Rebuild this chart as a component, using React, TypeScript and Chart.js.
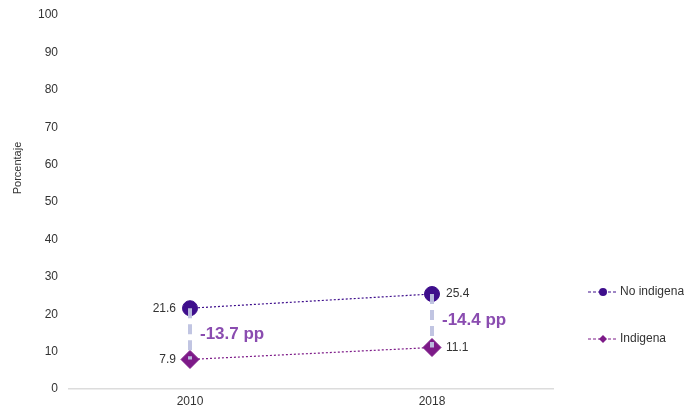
import React, { useEffect, useRef } from "react";
import { Chart, registerables } from "chart.js";

Chart.register(...registerables);

const categories = ["2010", "2018"];
const noIndigena = [21.6, 25.4];
const indigena = [7.9, 11.1];
const gapLabels = ["-13.7 pp", "-14.4 pp"];
const yTicks = [0, 10, 20, 30, 40, 50, 60, 70, 80, 90, 100];
const seriesNames = ["No indigena", "Indigena"];

const COLOR_NO = "#3e0e8c";
const COLOR_IND = "#7d1a88";
const FONT = "'Liberation Sans', Arial, sans-serif";

const overlayPlugin = {
  id: "overlay",
  afterDatasetsDraw(chart: any) {
    const ctx = chart.ctx;
    const m0 = chart.getDatasetMeta(0);
    const m1 = chart.getDatasetMeta(1);
    ctx.save();
    // connectors
    for (let i = 0; i < categories.length; i++) {
      const a = m0.data[i];
      const b = m1.data[i];
      if (!a || !b) continue;
      ctx.beginPath();
      ctx.setLineDash([10, 6]);
      ctx.lineWidth = 4;
      ctx.strokeStyle = "rgba(190,194,224,0.95)";
      ctx.moveTo(a.x, a.y);
      ctx.lineTo(b.x, b.y);
      ctx.stroke();
    }
    ctx.setLineDash([]);
    // value labels
    ctx.font = `12px ${FONT}`;
    ctx.fillStyle = "#333";
    ctx.textBaseline = "middle";
    for (let i = 0; i < categories.length; i++) {
      const left = i === 0;
      ctx.textAlign = left ? "right" : "left";
      const a = m0.data[i];
      const b = m1.data[i];
      const off = 14;
      ctx.fillText(String(noIndigena[i]), left ? a.x - off : a.x + off, a.y);
      ctx.fillText(String(indigena[i]), left ? b.x - off : b.x + off, b.y);
    }
    // gap labels
    ctx.font = `bold 17px ${FONT}`;
    ctx.fillStyle = "#8a4cb0";
    ctx.textAlign = "left";
    for (let i = 0; i < categories.length; i++) {
      const a = m0.data[i];
      const b = m1.data[i];
      ctx.fillText(gapLabels[i], a.x + 10, (a.y + b.y) / 2);
    }
    // y-axis title
    ctx.save();
    ctx.translate(18, 168);
    ctx.rotate(-Math.PI / 2);
    ctx.font = `11px ${FONT}`;
    ctx.fillStyle = "#333";
    ctx.textAlign = "center";
    ctx.fillText("Porcentaje", 0, 0);
    ctx.restore();
    // legend
    const items = [
      { name: seriesNames[0], color: COLOR_NO, y: 292, style: "circle", r: 4 },
      { name: seriesNames[1], color: COLOR_IND, y: 339, style: "rectRot", r: 4 },
    ];
    items.forEach((it) => {
      ctx.beginPath();
      ctx.setLineDash([3, 2]);
      ctx.lineWidth = 1;
      ctx.strokeStyle = it.color;
      ctx.moveTo(588, it.y);
      ctx.lineTo(617, it.y);
      ctx.stroke();
      ctx.setLineDash([]);
      ctx.fillStyle = it.color;
      ctx.beginPath();
      if (it.style === "circle") {
        ctx.arc(603, it.y, it.r, 0, Math.PI * 2);
      } else {
        ctx.moveTo(603, it.y - it.r);
        ctx.lineTo(603 + it.r, it.y);
        ctx.lineTo(603, it.y + it.r);
        ctx.lineTo(603 - it.r, it.y);
        ctx.closePath();
      }
      ctx.fill();
      ctx.font = `12px ${FONT}`;
      ctx.fillStyle = "#333";
      ctx.textAlign = "left";
      ctx.fillText(it.name, 620, it.y);
    });
    ctx.restore();
  },
};

export default function App() {
  const ref = useRef<HTMLCanvasElement | null>(null);
  useEffect(() => {
    if (!ref.current) return;
    const chart = new Chart(ref.current, {
      type: "line",
      data: {
        labels: categories,
        datasets: [
          {
            label: seriesNames[0],
            data: noIndigena,
            borderColor: COLOR_NO,
            backgroundColor: COLOR_NO,
            borderWidth: 1.2,
            borderDash: [2, 2],
            pointStyle: "circle",
            pointRadius: 7.5,
            pointBorderWidth: 1,
            pointBackgroundColor: COLOR_NO,
            pointBorderColor: COLOR_NO,
          },
          {
            label: seriesNames[1],
            data: indigena,
            borderColor: COLOR_IND,
            backgroundColor: COLOR_IND,
            borderWidth: 1.2,
            borderDash: [2, 2],
            pointStyle: "rectRot",
            pointRadius: 9,
            pointBorderWidth: 1,
            pointBackgroundColor: COLOR_IND,
            pointBorderColor: COLOR_IND,
          },
        ],
      },
      options: {
        responsive: false,
        animation: false,
        layout: { padding: { top: 15, right: 131, left: 0, bottom: 0 } },
        plugins: {
          legend: { display: false },
          tooltip: { enabled: false },
        },
        scales: {
          x: {
            offset: true,
            grid: { display: true, color: "transparent", drawTicks: false },
            border: { display: true, color: "#dcdcdc", width: 1.5 },
            ticks: { color: "#333", font: { family: FONT, size: 12 }, padding: 5 },
            afterFit: (s: any) => {
              s.height = 21;
              s.paddingLeft = 0;
              s.paddingRight = 0;
            },
          },
          y: {
            min: 0,
            max: 100,
            afterBuildTicks: (s: any) => {
              s.ticks = yTicks.map((v) => ({ value: v }));
            },
            grid: { display: false, drawTicks: false },
            border: { display: false },
            ticks: { color: "#333", font: { family: FONT, size: 12 }, padding: 11 },
            afterFit: (s: any) => {
              s.width = 69;
              s.paddingTop = 0;
              s.paddingBottom = 0;
            },
          },
        },
      },
      plugins: [overlayPlugin],
    });
    return () => chart.destroy();
  }, []);
  return (
    <div style={{ position: "absolute", left: 0, top: 0, width: 684, height: 410, background: "#fff" }}>
      <canvas ref={ref} width={684} height={410} />
    </div>
  );
}
